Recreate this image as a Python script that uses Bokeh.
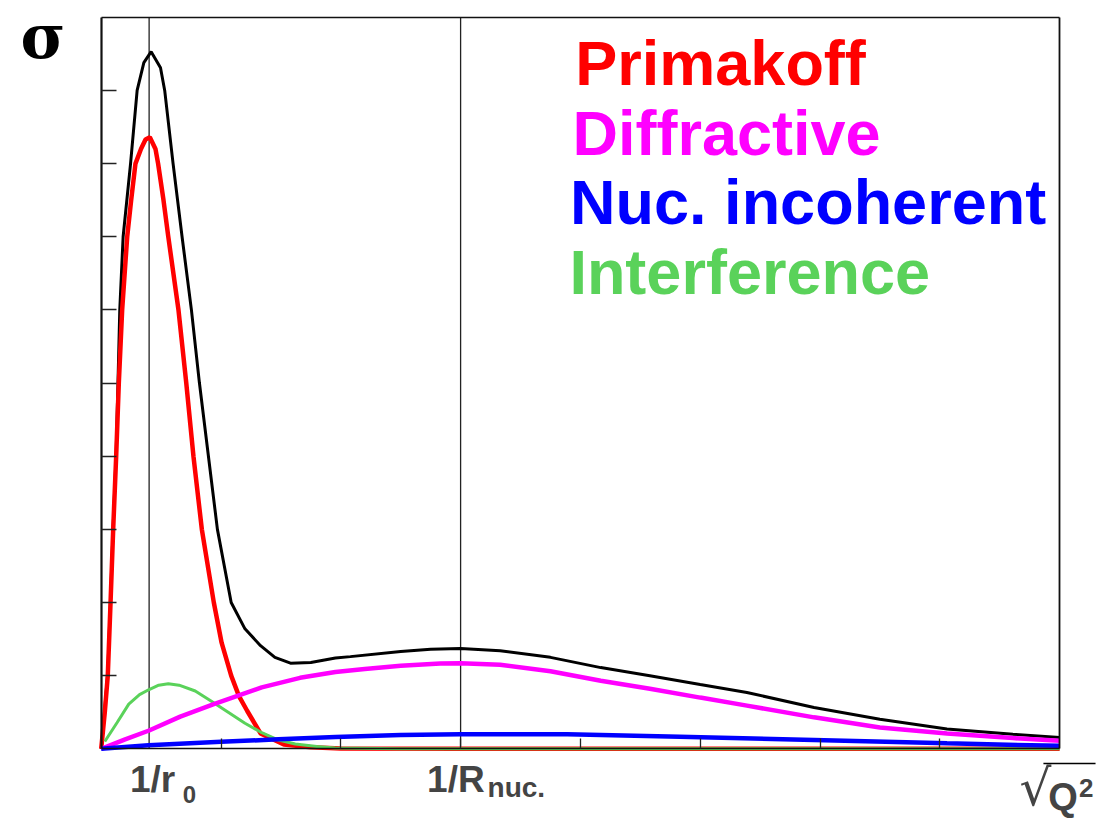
from bokeh.plotting import figure
from bokeh.models import Label, FixedTicker, Arrow, LinearAxis
from bokeh.embed import file_html
from bokeh.resources import INLINE

# ---- data (x in units of the sqrt(Q^2) axis, y in units of sigma) ----
prim_x = [0, 0.03, 0.055, 0.078, 0.10, 0.125, 0.147, 0.175, 0.217, 0.25, 0.286, 0.332, 0.37, 0.406,
          0.453, 0.475, 0.52, 0.56, 0.645, 0.71, 0.77, 0.84, 0.94, 1.005, 1.085, 1.15, 1.218, 1.33,
          1.525, 1.75, 2.0, 3.0, 8.0]
prim_y = [0, 0.5, 1.0, 2.0, 3.0, 4.0, 5.0, 6.0, 7.0, 7.5, 8.0, 8.2, 8.33, 8.36,
          8.2, 8.0, 7.5, 7.0, 6.0, 5.0, 4.0, 3.0, 2.0, 1.45, 1.0, 0.72, 0.52, 0.21,
          0.06, 0.02, 0.005, 0.0, 0.0]

tot_x = [0, 0.03, 0.055, 0.078, 0.10, 0.125, 0.14, 0.155, 0.183, 0.245, 0.30, 0.356, 0.417, 0.495,
         0.53, 0.60, 0.675, 0.753, 0.82, 0.895, 0.97, 1.085, 1.2, 1.33, 1.45, 1.58, 1.75, 1.955,
         2.08, 2.5, 2.75, 3.0, 3.33, 3.75, 4.17, 4.58, 5.0, 5.39, 5.95, 6.5, 7.06, 7.61, 8.0]
tot_y = [0, 0.55, 1.05, 2.05, 3.05, 4.05, 5.0, 6.0, 7.0, 8.0, 9.0, 9.38, 9.53, 9.31,
         9.0, 8.0, 7.0, 6.0, 5.0, 4.0, 3.0, 2.0, 1.64, 1.41, 1.25, 1.17, 1.18, 1.24,
         1.26, 1.33, 1.36, 1.37, 1.34, 1.25, 1.11, 1.0, 0.88, 0.77, 0.565, 0.405, 0.27, 0.2, 0.155]

diff_x = [0, 0.2, 0.4, 0.66, 0.94, 1.34, 1.66, 1.955, 2.2, 2.5, 2.83, 3.0, 3.33, 3.75, 4.17, 4.58,
          5.0, 5.39, 5.95, 6.5, 7.06, 7.61, 8.0]
diff_y = [0, 0.13, 0.25, 0.44, 0.61, 0.84, 0.97, 1.05, 1.09, 1.135, 1.165, 1.17, 1.15, 1.06, 0.93, 0.82,
          0.70, 0.59, 0.43, 0.29, 0.21, 0.146, 0.11]

inc_x = [0, 0.395, 1.0, 1.48, 1.955, 2.5, 3.0, 3.89, 4.83, 5.95, 7.06, 8.0]
inc_y = [0, 0.05, 0.095, 0.13, 0.16, 0.19, 0.2, 0.2, 0.165, 0.12, 0.075, 0.04]

int_x = [0.03, 0.133, 0.23, 0.32, 0.40, 0.48, 0.56, 0.65, 0.785, 0.92, 1.06, 1.2, 1.34, 1.48, 1.62,
         1.8, 1.955, 2.5, 8.0]
int_y = [0.1, 0.36, 0.61, 0.74, 0.81, 0.87, 0.89, 0.87, 0.79, 0.65, 0.5, 0.35, 0.22, 0.12, 0.065,
         0.03, 0.01, 0.0, 0.0]

scale_marks = [0.4, 3.0]           # 1/r0 and 1/R_nuc.
x_lo, x_hi = 0, 8                  # axis box
y_lo, y_hi = 0, 10
x_ticks = [1, 2, 3, 4, 5, 6, 7]
y_ticks = [1, 2, 3, 4, 5, 6, 7, 8, 9]

series = [
    ("Primakoff", "#ff0000"),
    ("Diffractive", "#ff00ff"),
    ("Nuc. incoherent", "#0000ff"),
    ("Interference", "#5ad25a"),
]

W, H = 1100, 821
# frame fills the canvas; the axis box sits inside it at fixed locations
p = figure(width=W, height=H, x_range=(-0.8406, 8.3414), y_range=(-0.9939, 10.2297),
           output_backend="svg", toolbar_location=None,
           x_axis_location=None, y_axis_location=None,
           min_border_left=0, min_border_right=0, min_border_top=0, min_border_bottom=0)
p.background_fill_color = "white"
p.border_fill_color = "white"
p.outline_line_color = None
p.xgrid.visible = False
p.ygrid.visible = False

def make_axis(ticks, tin, loc, bounds, lw):
    ax = LinearAxis(fixed_location=loc, bounds=bounds, ticker=FixedTicker(ticks=ticks))
    ax.major_label_overrides = {t: "" for t in ticks}
    ax.major_label_text_color = None
    ax.major_tick_in = tin
    ax.major_tick_out = 0
    ax.minor_tick_line_color = None
    ax.major_tick_line_color = "#222222"
    ax.major_tick_line_width = 1.3
    ax.axis_line_color = "#111111"
    ax.axis_line_width = lw
    return ax

p.add_layout(make_axis(x_ticks, 10, y_lo, (x_lo, x_hi), 1.6), "below")
p.add_layout(make_axis(y_ticks, 15, x_lo, (y_lo, y_hi), 2.2), "left")
p.add_layout(make_axis([], 0, y_hi, (x_lo, x_hi), 1.6), "above")
p.add_layout(make_axis([], 0, x_hi, (y_lo, y_hi), 1.8), "right")

p.segment(x0=scale_marks, y0=[y_lo] * len(scale_marks), x1=scale_marks, y1=[y_hi] * len(scale_marks),
          line_color="#222222", line_width=1.3)

p.line(tot_x, tot_y, line_color="black", line_width=3)
p.line(prim_x, prim_y, line_color=series[0][1], line_width=4.5)
p.line(int_x, int_y, line_color=series[3][1], line_width=3)
p.line(diff_x, diff_y, line_color=series[1][1], line_width=4.5)
p.line(inc_x, inc_y, line_color=series[2][1], line_width=4.5)

# legend-like colored texts
leg_x = [3.957, 3.934, 3.914, 3.908]
leg_y = [9.372, 8.415, 7.481, 6.524]
for (name, col), xx, yy in zip(series, leg_x, leg_y):
    p.add_layout(Label(x=xx, y=yy, text=name, text_color=col, text_font="Liberation Sans",
                       text_font_style="bold", text_font_size="63px", text_baseline="alphabetic"))

# sigma
p.add_layout(Label(x=-0.674, y=9.733, text="σ", text_color="black", text_font="DejaVu Serif",
                   text_font_style="bold", text_font_size="61px", text_baseline="alphabetic"))

# scale labels
p.add_layout(Label(x=0.24, y=-0.42, text="1/r", text_font="Liberation Sans", text_font_style="bold",
                   text_font_size="37px", text_baseline="alphabetic"))
p.add_layout(Label(x=0.68, y=-0.623, text="0", text_font="Liberation Sans", text_font_style="bold",
                   text_font_size="24px", text_baseline="alphabetic"))
p.add_layout(Label(x=2.72, y=-0.42, text="1/R", text_font="Liberation Sans", text_font_style="bold",
                   text_font_size="37px", text_baseline="alphabetic"))
p.add_layout(Label(x=3.225, y=-0.535, text="nuc.", text_font="Liberation Sans", text_font_style="bold",
                   text_font_size="28px", text_baseline="alphabetic"))

# sqrt(Q^2)
p.add_layout(Label(x=7.665, y=-0.54, text="√", text_font="DejaVu Sans", text_font_size="50px",
                   text_baseline="alphabetic"))
p.add_layout(Label(x=7.905, y=-0.66, text="Q", text_font="Liberation Sans", text_font_style="bold",
                   text_font_size="38px", text_baseline="alphabetic"))
p.add_layout(Label(x=8.162, y=-0.53, text="2", text_font="Liberation Sans", text_font_style="bold",
                   text_font_size="26px", text_baseline="alphabetic"))
p.add_layout(Arrow(end=None, x_start=7.865, y_start=-0.201, x_end=8.30, y_end=-0.201,
                   line_color="black", line_width=1.5))

open("out.html", "w").write(file_html(p, INLINE))
